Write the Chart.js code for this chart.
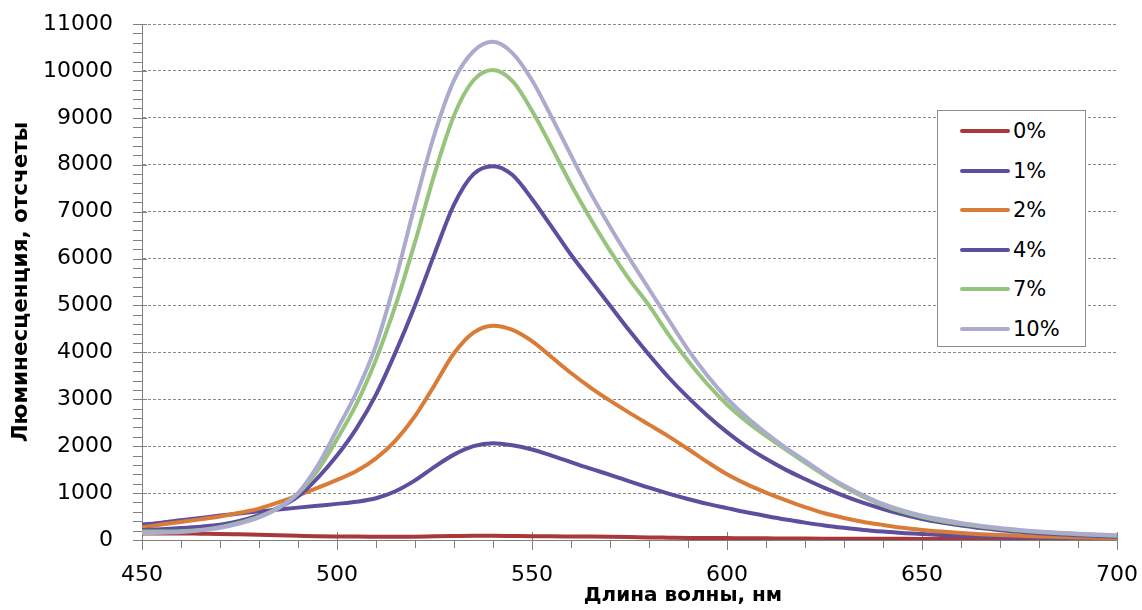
<!DOCTYPE html>
<html><head><meta charset="utf-8">
<script src="https://cdn.jsdelivr.net/npm/chart.js@4.4.1/dist/chart.umd.min.js"></script>
<style>
html,body{margin:0;padding:0;background:#fff;}
#wrap{position:relative;width:1142px;height:610px;overflow:hidden;background:#fff}
#legend{position:absolute;left:937px;top:110px;width:149px;height:237px;border:1px solid #8c8c8c;background:#fff;box-sizing:border-box;font-family:"DejaVu Sans",sans-serif;font-size:21px;color:#000}
.item{position:absolute;left:22px;height:26px;display:flex;align-items:center;white-space:nowrap}
.sw{width:50px;height:4px;border-radius:2px;margin-right:3px}
</style></head>
<body><div id="wrap"><canvas id="c" width="1142" height="610"></canvas><div id="legend"></div></div>
<script>
const wavelengths = [450,455,460,465,470,475,480,485,490,495,500,505,510,515,520,525,530,535,540,545,550,555,560,565,570,575,580,585,590,595,600,605,610,615,620,625,630,635,640,645,650,655,660,665,670,675,680,685,690,695,700];
const seriesLabels = ['0%','1%','2%','4%','7%','10%'];
const s0 = [140,140,140,135,130,120,110,100,90,80,75,72,70,68,70,78,85,90,90,85,80,78,75,72,68,62,55,50,45,42,40,38,35,33,30,28,27,26,25,24,23,22,21,20,19,18,17,16,15,15,14];
const s1 = [330,370,420,470,520,565,610,650,690,730,770,815,890,1040,1270,1560,1820,2000,2065,2020,1930,1800,1660,1520,1390,1250,1115,990,875,770,680,590,510,435,370,310,260,215,180,150,128,108,92,80,70,60,52,45,40,35,30];
const s2 = [270,330,385,440,500,580,670,800,950,1110,1280,1470,1740,2120,2640,3300,3980,4420,4570,4480,4240,3900,3560,3250,2970,2710,2460,2210,1940,1660,1400,1190,1010,850,700,570,470,385,320,260,215,180,150,125,105,90,75,65,55,50,45];
const s4 = [210,230,255,285,325,405,530,690,930,1320,1800,2380,3100,4000,5000,6100,7150,7800,7970,7780,7270,6680,6080,5540,5000,4460,3950,3470,3040,2650,2300,1990,1730,1500,1300,1110,940,790,660,545,445,370,310,255,210,175,145,120,100,85,70];
const s7 = [180,180,185,215,275,370,500,690,990,1480,2150,2900,3850,5000,6350,7800,9050,9800,10020,9780,9150,8380,7580,6850,6170,5550,5000,4380,3820,3320,2890,2530,2220,1930,1650,1380,1130,920,740,600,490,405,340,285,240,200,170,145,125,105,90];
const s10 = [150,155,170,205,260,350,480,680,1000,1580,2350,3150,4150,5550,7150,8650,9800,10420,10620,10380,9800,9020,8200,7400,6680,6000,5350,4700,4060,3500,3020,2620,2280,1970,1690,1410,1160,950,770,630,520,440,365,305,255,215,180,155,135,115,100];
const xTickValues = [450,500,550,600,650,700];
const yTickValues = [0,1000,2000,3000,4000,5000,6000,7000,8000,9000,10000,11000];
const xTitle = 'Длина волны, нм';
const yTitle = 'Люминесценция, отсчеты';

const seriesData = [s0,s1,s2,s4,s7,s10];
const seriesColors = ['#A8383A','#5E4E9F','#D97C38','#5E4E9F','#97C47C','#ABABD0'];

const extras = {
  id:'extras',
  beforeDatasetsDraw(chart){
    const ctx = chart.ctx, xs = chart.scales.x, ys = chart.scales.y;
    ctx.save();
    ctx.strokeStyle = '#808080'; ctx.lineWidth = 1;
    ctx.beginPath();
    for (let v = 0; v <= 11000; v += 200) {
      const p = Math.round(ys.getPixelForValue(v)) + 0.5;
      const major = v % 1000 === 0;
      ctx.moveTo(xs.left - 9, p); ctx.lineTo(xs.left + (major ? 5 : 0), p);
    }
    for (let v = 450; v <= 700; v += 10) {
      const p = Math.round(xs.getPixelForValue(v)) + 0.5;
      const major = v % 50 === 0;
      ctx.moveTo(p, ys.bottom - (major ? 8 : 0)); ctx.lineTo(p, ys.bottom + (major ? 10 : 8));
    }
    ctx.stroke();
    ctx.restore();
  },
  afterDraw(chart){
    const ctx = chart.ctx;
    ctx.save();
    ctx.font = 'bold 20px "DejaVu Sans"';
    ctx.fillStyle = '#000';
    ctx.textAlign = 'center';
    ctx.textBaseline = 'alphabetic';
    ctx.fillText(xTitle, 683, 601);
    ctx.restore();
  }
};

new Chart(document.getElementById('c'), {
  type:'line',
  data:{datasets: seriesData.map((s,i)=>({
    label: seriesLabels[i],
    data: wavelengths.map((w,j)=>({x:w,y:s[j]})),
    borderColor: seriesColors[i], backgroundColor: seriesColors[i],
    borderWidth: 4, pointRadius: 0, pointHoverRadius: 0, tension: 0.4, cubicInterpolationMode:'monotone',
    fill:false, order: seriesData.length - 1 - i
  }))},
  options:{
    responsive:false, animation:false, devicePixelRatio:1,
    layout:{autoPadding:false, padding:{top:24,right:25,left:0,bottom:0}},
    plugins:{legend:{display:false}, tooltip:{enabled:false}},
    scales:{
      x:{type:'linear', min:450, max:700,
        afterBuildTicks: s => { s.ticks = xTickValues.map(v=>({value:v})); },
        ticks:{font:{family:'DejaVu Sans', size:22}, color:'#000', padding:0, maxRotation:0, autoSkip:false, callback: v => String(v)},
        grid:{display:true, drawOnChartArea:false, drawTicks:true, tickLength:22, tickColor:'rgba(0,0,0,0)'},
        border:{display:true, color:'#808080', width:1},
        afterFit: s => { s.height = 70; }
      },
      y:{min:0, max:11000,
        afterBuildTicks: s => { s.ticks = yTickValues.map(v=>({value:v})); },
        ticks:{font:{family:'DejaVu Sans', size:22}, color:'#000', padding:0, autoSkip:false, callback: v => String(v)},
        grid:{color: c => (c.tick && c.tick.value === 0) ? 'rgba(0,0,0,0)' : '#8a8a8a', drawTicks:true, tickLength:29, tickColor:'rgba(0,0,0,0)', lineWidth:1},
        border:{display:true, color:'#808080', width:1, dash:[3,2]},
        title:{display:true, text:yTitle, font:{family:'DejaVu Sans', size:21.5, weight:'bold'}, color:'#000', padding:{top:9,bottom:0}},
        afterFit: s => { s.width = 142; }
      }
    }
  },
  plugins:[extras]
});

const lg = document.getElementById('legend');
seriesLabels.forEach((lab,i)=>{
  const it = document.createElement('div');
  it.className = 'item';
  it.style.top = (7 + i*39.6) + 'px';
  const sw = document.createElement('span'); sw.className='sw'; sw.style.background = seriesColors[i];
  const tx = document.createElement('span'); tx.textContent = lab;
  it.appendChild(sw); it.appendChild(tx);
  lg.appendChild(it);
});
</script>
</body></html>
